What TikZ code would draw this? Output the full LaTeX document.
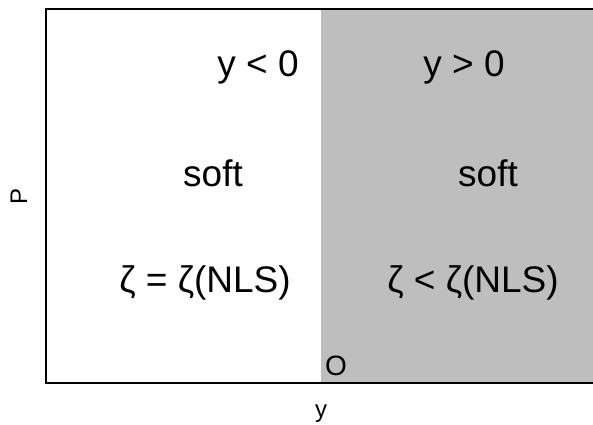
\documentclass[tikz,border=0pt]{standalone}
\usepackage{fontspec}
\setmainfont{Liberation Sans}
\usepackage{tikz}
\usetikzlibrary{positioning}
\definecolor{regiongray}{HTML}{BEBEBE}

\begin{document}
\begin{tikzpicture}[x=1pt, y=-1pt, every node/.style={inner sep=0pt},
  region/.style={anchor=base, font=\fontsize{37}{40}\selectfont},
  axislabel/.style={anchor=base, font=\fontsize{24}{28}\selectfont}]
\useasboundingbox (0,0) rectangle (593,424);

% shaded half and frame
\fill[regiongray] (321,9) rectangle (595,383);
\draw[line width=1.5pt] (600,9) -- (46,9) -- (46,383) -- (600,383);

% region labels
\node[region] (signneg) at (258,76) {y < 0};
\node[region] (signpos) at (464,76) {y > 0};
\node[region] (softneg) at (213,186) {soft};
\node[region] (softpos) at (488,186) {soft};
\node[region] (zetaeq) at (205,292) {ζ = ζ(NLS)};
\node[region] (zetalt) at (473,292) {ζ < ζ(NLS)};

% origin and axes
\node[axislabel, anchor=base west, font=\fontsize{28}{30}\selectfont] (origin) at (325,375) {O};
\node[axislabel] (ylabel) at (321,417) {y};
\node[axislabel, rotate=90] (plabel) at (27,196) {P};
\end{tikzpicture}
\end{document}
